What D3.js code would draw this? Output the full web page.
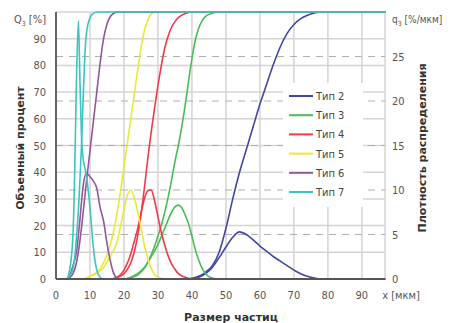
<!DOCTYPE html>
<html>
<head>
<meta charset="utf-8">
<script src="https://cdnjs.cloudflare.com/ajax/libs/d3/7.8.5/d3.min.js"></script>
<style>
	body { margin:0; background:#fff; }
	text { font-family: "DejaVu Sans Condensed", "DejaVu Sans", sans-serif; }
	.title { font-family: "DejaVu Sans", sans-serif; font-size: 11px; font-weight: bold; fill: #333; }
</style>
</head>
<body>
<svg id="chart" width="454" height="323"></svg>
<script>
	var WIDTH = 454, HEIGHT = 323;
	var margin = {top: 12, right: 69, bottom: 44, left: 56};

	// tick values
	var xTicks = [0, 10, 20, 30, 40, 50, 60, 70, 80, 90];
	var leftTicks = [0, 10, 20, 30, 40, 50, 60, 70, 80, 90];
	var rightTicks = [0, 5, 10, 15, 20, 25];
	var seriesNames = ["Тип 2", "Тип 3", "Тип 4", "Тип 5", "Тип 6", "Тип 7"];
	var seriesColors = ["#42479e", "#4dbb55", "#ee3b47", "#e9e93a", "#93569b", "#3cc4c0"];

	// particle size points, cumulative Q3 [%] and density q3 [%/мкм] per type
	var type2X    = [0, 38, 40, 42, 44, 46, 48, 50, 52, 54, 56, 58, 60, 62, 64, 66, 68, 70, 72, 74, 76, 78, 97];
	var type2Cum  = [0, 0, 0.3, 1, 2.5, 5, 10, 19, 30, 40, 48.5, 57, 65.5, 73, 80.5, 87, 92, 95.3, 97.5, 98.8, 99.6, 100, 100];
	var type2Dens = [0, 0, 0, 0.2, 0.6, 1.3, 2.4, 3.6, 4.7, 5.3, 5.0, 4.4, 3.7, 3.1, 2.5, 2.0, 1.5, 1.0, 0.6, 0.3, 0.1, 0, 0];

	var type3X    = [0, 20, 22, 24, 26, 28, 30, 32, 34, 35, 36, 37, 38, 39, 40, 41, 42, 43, 44, 46, 48, 97];
	var type3Cum  = [0, 0, 0.5, 1.5, 4, 9, 16, 25, 37, 44, 50, 57, 65, 74, 82.5, 89.5, 94, 96.8, 98.4, 99.5, 100, 100];
	var type3Dens = [0, 0, 0.2, 0.6, 1.3, 2.5, 3.9, 5.7, 7.5, 8.1, 8.3, 8.0, 7.2, 6.2, 4.8, 3.3, 2.1, 1.2, 0.6, 0.1, 0, 0];

	var type4X    = [0, 16, 18, 20, 22, 23, 24, 25, 26, 27, 28, 29, 30, 31, 32, 33, 34, 35, 36, 38, 40, 97];
	var type4Cum  = [0, 0, 0.5, 2, 6, 10, 16, 24, 34, 45, 55, 64, 72.5, 80, 86.5, 91, 94.3, 96.4, 97.9, 99.4, 100, 100];
	var type4Dens = [0, 0, 0.2, 1.0, 2.8, 4.2, 5.6, 7.4, 9.0, 9.9, 10.0, 8.8, 7.0, 5.2, 3.8, 2.6, 1.7, 1.1, 0.6, 0.2, 0, 0];

	var type5X    = [0, 8, 10, 12, 14, 16, 18, 19, 20, 21, 22, 23, 24, 25, 26, 27, 28, 29, 30, 32, 97];
	var type5Cum  = [0, 0, 1, 2.5, 6, 13, 25, 33, 42, 51, 60, 69, 78, 86.5, 93, 97, 99.2, 99.9, 100, 100, 100];
	var type5Dens = [0, 0, 0.3, 0.7, 1.3, 2.6, 4.2, 6.0, 7.8, 9.4, 10.0, 9.2, 7.6, 5.8, 3.8, 2.3, 1.2, 0.5, 0.2, 0, 0];

	var type6X    = [0, 3, 4, 5, 6, 7, 8, 9, 10, 11, 12, 13, 14, 15, 16, 17, 18, 19, 97];
	var type6Cum  = [0, 0, 0.5, 2, 6, 14, 25, 37, 48, 59, 70, 81, 90, 95.5, 98.3, 99.5, 100, 100, 100];
	var type6Dens = [0, 0, 0.4, 1.5, 3.0, 6.5, 10.5, 11.9, 11.5, 11.0, 10.2, 8.0, 6.5, 4.0, 2.0, 0.6, 0.1, 0, 0];

	var type7X    = [0, 3, 4, 5, 5.5, 6, 6.6, 7, 7.5, 8, 8.5, 9, 10, 11, 12, 13, 14, 97];
	var type7Cum  = [0, 0, 1, 4, 8, 15, 26, 36, 50, 68, 84, 92.5, 97.8, 99.5, 100, 100, 100, 100];
	var type7Dens = [0, 0, 1, 5, 12, 22, 29, 23, 16, 13.5, 12.5, 11.5, 8, 3.5, 1, 0.2, 0, 0];

	var seriesX = [type2X, type3X, type4X, type5X, type6X, type7X];
	var seriesCum = [type2Cum, type3Cum, type4Cum, type5Cum, type6Cum, type7Cum];
	var seriesDens = [type2Dens, type3Dens, type4Dens, type5Dens, type6Dens, type7Dens];

	var svg = d3.select("#chart");
	var innerW = WIDTH - margin.left - margin.right,
		innerH = HEIGHT - margin.top - margin.bottom;

	var x = d3.scaleLinear().domain([0, 96.8]).range([margin.left, margin.left + innerW]);
	var yLeft = d3.scaleLinear().domain([0, 100]).range([margin.top + innerH, margin.top]);
	var yRight = d3.scaleLinear().domain([0, 30]).range([margin.top + innerH, margin.top]);

	// grid
	var grid = svg.append("g");
	grid.selectAll(".vgrid").data(xTicks.slice(1).concat([96.8]))
		.enter().append("line")
		.attr("x1", function(d){ return x(d); }).attr("x2", function(d){ return x(d); })
		.attr("y1", yLeft(100)).attr("y2", yLeft(0))
		.attr("stroke", "#d4d4d4").attr("stroke-width", 1.5);
	grid.selectAll(".hgrid").data(leftTicks.slice(1).concat([100]))
		.enter().append("line")
		.attr("x1", x(0)).attr("x2", x(96.8))
		.attr("y1", function(d){ return yLeft(d); }).attr("y2", function(d){ return yLeft(d); })
		.attr("stroke", "#d4d4d4").attr("stroke-width", 1.5);
	grid.selectAll(".dgrid").data(rightTicks.slice(1))
		.enter().append("line")
		.attr("x1", x(0)).attr("x2", x(96.8))
		.attr("y1", function(d){ return yRight(d); }).attr("y2", function(d){ return yRight(d); })
		.attr("stroke", "#b0b0b0").attr("stroke-width", 1.2)
		.attr("stroke-dasharray", "7,6");

	// curves
	var plot = svg.append("g");
	seriesNames.forEach(function(name, i){
		var cum = seriesX[i].map(function(v, j){ return [v, seriesCum[i][j]]; });
		var dens = seriesX[i].map(function(v, j){ return [v, seriesDens[i][j]]; });
		plot.append("path")
			.datum(cum)
			.attr("fill", "none")
			.attr("stroke", seriesColors[i])
			.attr("stroke-width", 1.6)
			.attr("d", d3.line().curve(d3.curveMonotoneX)
				.x(function(d){ return x(d[0]); })
				.y(function(d){ return yLeft(d[1]); }));
		plot.append("path")
			.datum(dens)
			.attr("fill", "none")
			.attr("stroke", seriesColors[i])
			.attr("stroke-width", 1.6)
			.attr("d", d3.line().curve(d3.curveMonotoneX)
				.x(function(d){ return x(d[0]); })
				.y(function(d){ return yRight(d[1]); }));
	});

	// axes
	var axisColor = "#555";
	svg.append("line")
		.attr("x1", x(0)).attr("x2", x(0))
		.attr("y1", yLeft(100)).attr("y2", yLeft(0))
		.attr("stroke", axisColor).attr("stroke-width", 1.8);
	svg.append("line")
		.attr("x1", x(0)).attr("x2", x(96.8))
		.attr("y1", yLeft(0)).attr("y2", yLeft(0))
		.attr("stroke", axisColor).attr("stroke-width", 1.8);

	var tickColor = "#555";
	svg.selectAll(".xlab").data(xTicks)
		.enter().append("text")
		.attr("x", function(d){ return x(d); })
		.attr("y", 299)
		.attr("text-anchor", "middle")
		.style("font-size", "11px").style("fill", tickColor)
		.text(function(d){ return d; });
	svg.append("text")
		.attr("x", 401).attr("y", 299)
		.attr("text-anchor", "middle")
		.style("font-size", "11px").style("fill", tickColor)
		.text("x [мкм]");

	svg.selectAll(".ylab").data(leftTicks)
		.enter().append("text")
		.attr("x", 46)
		.attr("y", function(d){ return yLeft(d) + 4; })
		.attr("text-anchor", "end")
		.style("font-size", "11px").style("fill", tickColor)
		.text(function(d){ return d; });
	var q3 = svg.append("text")
		.attr("x", 46).attr("y", 23)
		.attr("text-anchor", "end")
		.style("font-size", "11px").style("fill", tickColor);
	q3.append("tspan").text("Q");
	q3.append("tspan").attr("dy", 3).style("font-size", "7px").text("3");
	q3.append("tspan").attr("dy", -3).text(" [%]");

	svg.selectAll(".rlab").data(rightTicks)
		.enter().append("text")
		.attr("x", 392)
		.attr("y", function(d){ return yRight(d) + 4; })
		.style("font-size", "11px").style("fill", tickColor)
		.text(function(d){ return d; });
	var rq3 = svg.append("text")
		.attr("x", 392).attr("y", 23)
		.style("font-size", "10px").style("fill", tickColor);
	rq3.append("tspan").text("q");
	rq3.append("tspan").attr("dy", 3).style("font-size", "7px").text("3");
	rq3.append("tspan").attr("dy", -3).text(" [%/мкм]");

	// axis titles
	svg.append("text")
		.attr("class", "title")
		.attr("transform", "translate(24,148) rotate(-90)")
		.attr("text-anchor", "middle")
		.text("Объемный процент");
	svg.append("text")
		.attr("class", "title")
		.attr("transform", "translate(426,148) rotate(-90)")
		.attr("text-anchor", "middle")
		.text("Плотность распределения");
	svg.append("text")
		.attr("class", "title")
		.attr("x", 231).attr("y", 321)
		.attr("text-anchor", "middle")
		.text("Размер частиц");

	// legend
	var legend = svg.append("g");
	legend.append("rect")
		.attr("x", 283).attr("y", 83).attr("width", 80).attr("height", 124)
		.attr("fill", "#fff");
	seriesNames.forEach(function(name, i){
		var ly = 96 + i * 19.2;
		legend.append("line")
			.attr("x1", 289).attr("x2", 313)
			.attr("y1", ly).attr("y2", ly)
			.attr("stroke", seriesColors[i]).attr("stroke-width", 2);
		legend.append("text")
			.attr("x", 316).attr("y", ly + 4)
			.style("font-size", "11px").style("fill", "#444")
			.text(name);
	});
</script>
</body>
</html>
